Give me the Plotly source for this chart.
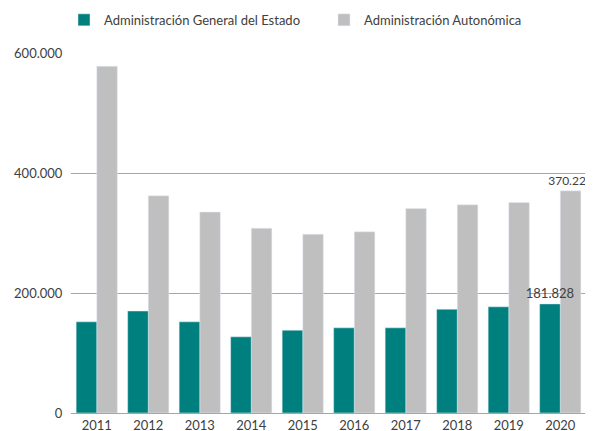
import plotly.graph_objects as go

years = ["2011", "2012", "2013", "2014", "2015", "2016", "2017", "2018", "2019", "2020"]
age = [152000, 170000, 152000, 127000, 138000, 142000, 142000, 173000, 177000, 181828]
autonomica = [578000, 362000, 335000, 308000, 298000, 302000, 341000, 347000, 351000, 370228]
series_names = ["Administración General del Estado", "Administración Autonómica"]
tick_vals = [0, 200000, 400000, 600000]

teal = "#007f7f"
grey = "#bfbfbf"
txt = "#404040"
font_family = "Lato, 'Open Sans', sans-serif"


def last_only(vals):
    return [""] * (len(vals) - 1) + [f"{vals[-1]:,}".replace(",", ".")]


fig = go.Figure()
# grey drawn first so the teal label sits on top of it
fig.add_trace(go.Bar(x=years, y=autonomica, name=series_names[1], marker_color=grey,
                     offset=0, width=0.4,
                     text=last_only(autonomica), textposition="outside",
                     constraintext="none", cliponaxis=False,
                     textfont=dict(size=12, color=txt)))
fig.add_trace(go.Bar(x=years, y=age, name=series_names[0], marker_color=teal,
                     offset=-0.4, width=0.4,
                     text=last_only(age), textposition="outside",
                     constraintext="none", cliponaxis=False,
                     textfont=dict(size=13, color=txt)))

fig.update_layout(
    width=585, height=423,
    margin=dict(l=63, r=7, t=45, b=18, autoexpand=False),
    paper_bgcolor="white", plot_bgcolor="white",
    barmode="overlay",
    separators=",.",
    font=dict(family=font_family, size=13, color=txt),
    legend=dict(orientation="h", x=-0.0136, xanchor="left",
                y=1.092, yanchor="middle",
                entrywidth=215, entrywidthmode="pixels",
                traceorder="reversed",
                font=dict(size=13, color=txt)),
    xaxis=dict(type="category", showline=True, linecolor="#a6a6a6", linewidth=1,
               ticks="", tickfont=dict(size=13, color=txt), showgrid=False),
    yaxis=dict(range=[0, 600000], tickvals=tick_vals, tickformat=",d",
               showgrid=True, gridcolor="#a6a6a6", gridwidth=1,
               zeroline=False, showline=False, ticks="outside", ticklen=5,
               tickcolor="rgba(0,0,0,0)",
               tickfont=dict(size=13, color=txt)),
)

fig.write_html("out.html")
